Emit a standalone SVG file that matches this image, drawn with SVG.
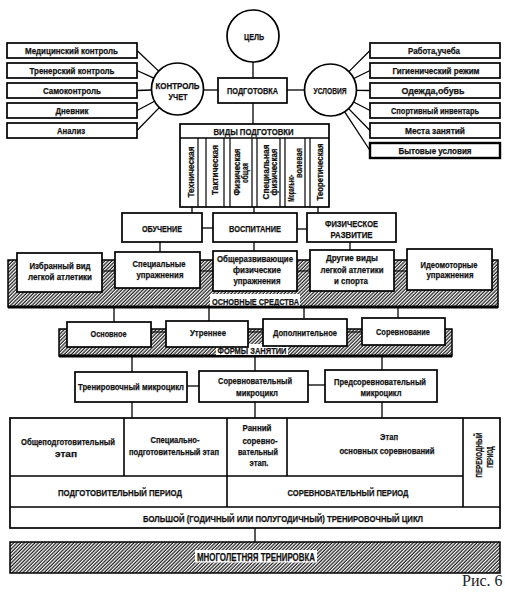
<svg xmlns="http://www.w3.org/2000/svg" width="505" height="602" viewBox="0 0 505 602">
<defs>
<pattern id="hatch" width="2.5" height="10" patternUnits="userSpaceOnUse" patternTransform="rotate(45)">
<rect width="2.5" height="10" fill="#fff"/>
<line x1="1" y1="0" x2="1" y2="10" stroke="#000" stroke-width="1.1"/>
</pattern>
</defs>
<style>
.b{fill:#fff;stroke:#000;stroke-width:1.7}
.h{fill:url(#hatch);stroke:#000;stroke-width:1.5}
.w{fill:#fff;stroke:none}
.t{font-family:"Liberation Sans",Arial,sans-serif;font-weight:bold;font-size:9.5px;text-anchor:middle;fill:#111;stroke:#111;stroke-width:0.25}
.s{font-size:8.5px}
.v{dominant-baseline:central}
.c line{stroke:#000;stroke-width:1.3;fill:none}
.thick{stroke:#000;stroke-width:3}
.cap{font-family:"Liberation Serif","Times New Roman",serif;font-size:16px;fill:#222}
</style>
<rect width="505" height="602" fill="#fff"/>

<g class="c" id="connectors">
<line x1="253" y1="62" x2="253" y2="78"/>
<line x1="203.5" y1="90" x2="218" y2="90"/>
<line x1="287" y1="90" x2="304.5" y2="90"/>
<line x1="137" y1="50.5" x2="158.7" y2="71.1"/>
<line x1="137" y1="70.5" x2="153.8" y2="78.2"/>
<line x1="137" y1="90.5" x2="151.5" y2="90"/>
<line x1="137" y1="110.5" x2="154.6" y2="101.2"/>
<line x1="137" y1="130.5" x2="159.3" y2="107.6"/>
<line x1="370" y1="50.5" x2="348.9" y2="71.6"/>
<line x1="370" y1="70.5" x2="353.8" y2="78.5"/>
<line x1="370" y1="90.5" x2="356.5" y2="90.3"/>
<line x1="370" y1="110.5" x2="353.6" y2="102"/>
<line x1="370" y1="130.5" x2="348.6" y2="108.6"/>
<line x1="370" y1="150.5" x2="344.7" y2="111.8"/>
<line x1="253" y1="103" x2="253" y2="124"/>
<line x1="192" y1="207" x2="192" y2="213"/>
<line x1="254" y1="207" x2="254" y2="213"/>
<line x1="318" y1="207" x2="318" y2="213"/>
<line x1="202" y1="228" x2="213" y2="228"/>
<line x1="297" y1="229" x2="307" y2="229"/>
<line x1="160" y1="242" x2="160" y2="252"/>
<line x1="254" y1="242" x2="254" y2="251"/>
<line x1="350" y1="242" x2="350" y2="250"/>
<line x1="114" y1="307" x2="114" y2="322"/>
<line x1="209" y1="307" x2="209" y2="321"/>
<line x1="304" y1="307" x2="304" y2="319"/>
<line x1="398" y1="307" x2="398" y2="318"/>
<line x1="132" y1="356" x2="132" y2="372"/>
<line x1="255" y1="356" x2="255" y2="371"/>
<line x1="382" y1="356" x2="382" y2="370"/>
<line x1="187" y1="386" x2="199" y2="386"/>
<line x1="308" y1="385" x2="325" y2="385"/>
<line x1="132" y1="402" x2="132" y2="418"/>
<line x1="255" y1="402" x2="255" y2="418"/>
<line x1="382" y1="402" x2="382" y2="418"/>
<line x1="255" y1="528" x2="255" y2="542"/>
</g>

<g id="goal">
<circle cx="253" cy="36" r="26" class="b"/>
<text class="t" x="254" y="40" textLength="20" lengthAdjust="spacingAndGlyphs">ЦЕЛЬ</text>
</g>
<g id="control">
<circle cx="177.5" cy="89" r="26" class="b"/>
<text class="t" x="177.5" y="88.5" textLength="44" lengthAdjust="spacingAndGlyphs">КОНТРОЛЬ</text>
<text class="t" x="178" y="99.5" textLength="19" lengthAdjust="spacingAndGlyphs">УЧЕТ</text>
</g>
<g id="conditions">
<circle cx="330.5" cy="90" r="26" class="b"/>
<text class="t" x="330" y="93.5" textLength="33" lengthAdjust="spacingAndGlyphs">УСЛОВИЯ</text>
</g>
<g id="training">
<rect x="218" y="78" width="69" height="25" class="b"/>
<text class="t" x="252.5" y="94" textLength="51" lengthAdjust="spacingAndGlyphs">ПОДГОТОВКА</text>
</g>

<g id="left-list">
<rect x="7" y="43" width="130" height="15" class="b"/><text class="t" x="71.5" y="54" textLength="93" lengthAdjust="spacingAndGlyphs">Медицинский контроль</text>
<rect x="7" y="63" width="130" height="15" class="b"/><text class="t" x="72" y="74" textLength="85" lengthAdjust="spacingAndGlyphs">Тренерский контроль</text>
<rect x="7" y="83" width="130" height="15" class="b"/><text class="t" x="72" y="94" textLength="58" lengthAdjust="spacingAndGlyphs">Самоконтроль</text>
<rect x="7" y="103" width="130" height="15" class="b"/><text class="t" x="72" y="114" textLength="33" lengthAdjust="spacingAndGlyphs">Дневник</text>
<rect x="7" y="123" width="130" height="15" class="b"/><text class="t" x="71" y="134" textLength="28" lengthAdjust="spacingAndGlyphs">Анализ</text>
</g>
<g id="right-list">
<rect x="370" y="43" width="130" height="15" class="b"/><text class="t" x="434" y="54" textLength="52" lengthAdjust="spacingAndGlyphs">Работа,учеба</text>
<rect x="370" y="63" width="130" height="15" class="b"/><text class="t" x="436" y="74" textLength="87" lengthAdjust="spacingAndGlyphs">Гигиенический режим</text>
<rect x="370" y="83" width="130" height="15" class="b"/><text class="t" x="433" y="94" textLength="63" lengthAdjust="spacingAndGlyphs">Одежда,обувь</text>
<rect x="370" y="103" width="130" height="15" class="b"/><text class="t" x="435" y="114" textLength="88" lengthAdjust="spacingAndGlyphs">Спортивный инвентарь</text>
<rect x="370" y="123" width="130" height="15" class="b"/><text class="t" x="435" y="134" textLength="60" lengthAdjust="spacingAndGlyphs">Места занятий</text>
<rect x="370" y="143" width="130" height="15" class="b" style="stroke-width:2.4"/><text class="t" x="435" y="154" textLength="73" lengthAdjust="spacingAndGlyphs">Бытовые условия</text>
</g>

<g id="types">
<rect x="180" y="124" width="149" height="83" class="b"/>
<line x1="180" y1="138" x2="329" y2="138" stroke="#000" stroke-width="1.5"/>
<text class="t" x="253.5" y="134.5" textLength="80" lengthAdjust="spacingAndGlyphs">ВИДЫ ПОДГОТОВКИ</text>
<g stroke="#000" stroke-width="1.2">
<line x1="198" y1="138" x2="198" y2="207"/><line x1="206" y1="138" x2="206" y2="207"/>
<line x1="224" y1="138" x2="224" y2="207"/><line x1="230" y1="138" x2="230" y2="207"/>
<line x1="252" y1="138" x2="252" y2="207"/><line x1="257" y1="138" x2="257" y2="207"/>
<line x1="280" y1="138" x2="280" y2="207"/><line x1="285" y1="138" x2="285" y2="207"/>
<line x1="305" y1="138" x2="305" y2="207"/><line x1="310" y1="138" x2="310" y2="207"/>
</g>
<text class="t v" transform="translate(190,172) rotate(-90)" textLength="51" lengthAdjust="spacingAndGlyphs">Техническая</text>
<text class="t v" transform="translate(214,170) rotate(-90)" textLength="50" lengthAdjust="spacingAndGlyphs">Тактическая</text>
<text class="t v" transform="translate(236.5,172) rotate(-90)" textLength="47" lengthAdjust="spacingAndGlyphs">Физическая</text>
<text class="t v" transform="translate(244.5,173) rotate(-90)" textLength="20" lengthAdjust="spacingAndGlyphs">общая</text>
<text class="t v" transform="translate(265,172) rotate(-90)" textLength="55" lengthAdjust="spacingAndGlyphs">Специальная</text>
<text class="t v" transform="translate(273,172) rotate(-90)" textLength="47" lengthAdjust="spacingAndGlyphs">физическая</text>
<text class="t v" transform="translate(290.5,188) rotate(-90)" textLength="27" lengthAdjust="spacingAndGlyphs">Морально-</text>
<text class="t v" transform="translate(298.5,163) rotate(-90)" textLength="30" lengthAdjust="spacingAndGlyphs">волевая</text>
<text class="t v" transform="translate(319,172) rotate(-90)" textLength="57" lengthAdjust="spacingAndGlyphs">Теоретическая</text>
</g>

<g id="teaching"><rect x="122" y="213" width="80" height="29" class="b"/><text class="t" x="162" y="231.5" textLength="40" lengthAdjust="spacingAndGlyphs">ОБУЧЕНИЕ</text></g>
<g id="upbringing"><rect x="213" y="213" width="84" height="29" class="b"/><text class="t" x="255" y="231.5" textLength="52" lengthAdjust="spacingAndGlyphs">ВОСПИТАНИЕ</text></g>
<g id="development"><rect x="307" y="213" width="89" height="29" class="b"/><text class="t" x="351.5" y="226.5" textLength="53" lengthAdjust="spacingAndGlyphs">ФИЗИЧЕСКОЕ</text><text class="t" x="351.5" y="237.5" textLength="42" lengthAdjust="spacingAndGlyphs">РАЗВИТИЕ</text></g>

<g id="means">
<rect x="8" y="260" width="490" height="47" class="h"/>
<line x1="8" y1="307" x2="498" y2="307" class="thick"/>
<g stroke="#000" stroke-width="1.1">
<line x1="102" y1="271" x2="115" y2="271"/><line x1="200" y1="271" x2="213" y2="271"/>
<line x1="297" y1="271" x2="310" y2="271"/><line x1="394" y1="271" x2="407" y2="271"/>
</g>
<rect x="210" y="294" width="90" height="11.5" class="w"/>
<text class="t" x="255.5" y="304.5" textLength="87" lengthAdjust="spacingAndGlyphs">ОСНОВНЫЕ СРЕДСТВА</text>
</g>
<g id="m1"><rect x="17" y="253" width="85" height="39" class="b"/><text class="t" x="60" y="269" textLength="61" lengthAdjust="spacingAndGlyphs">Избранный вид</text><text class="t" x="60" y="280" textLength="64" lengthAdjust="spacingAndGlyphs">легкой атлетики</text></g>
<g id="m2"><rect x="115" y="252" width="85" height="36" class="b"/><text class="t" x="159" y="267" textLength="53" lengthAdjust="spacingAndGlyphs">Специальные</text><text class="t" x="160" y="278" textLength="47" lengthAdjust="spacingAndGlyphs">упражнения</text></g>
<g id="m3"><rect x="213" y="251" width="84" height="40" class="b"/><text class="t" x="255" y="262" textLength="76" lengthAdjust="spacingAndGlyphs">Общеразвивающие</text><text class="t" x="257" y="273" textLength="48" lengthAdjust="spacingAndGlyphs">физические</text><text class="t" x="257" y="284" textLength="47" lengthAdjust="spacingAndGlyphs">упражнения</text></g>
<g id="m4"><rect x="310" y="250" width="84" height="41" class="b"/><text class="t" x="352" y="261" textLength="52" lengthAdjust="spacingAndGlyphs">Другие виды</text><text class="t" x="352" y="272.5" textLength="63" lengthAdjust="spacingAndGlyphs">легкой атлетики</text><text class="t" x="351" y="284" textLength="34" lengthAdjust="spacingAndGlyphs">и спорта</text></g>
<g id="m5"><rect x="407" y="249" width="85" height="41" class="b"/><text class="t" x="449" y="268" textLength="57" lengthAdjust="spacingAndGlyphs">Идеомоторные</text><text class="t" x="450" y="278" textLength="47" lengthAdjust="spacingAndGlyphs">упражнения</text></g>

<g id="forms">
<rect x="59" y="329" width="393" height="27" class="h"/>
<line x1="59" y1="356" x2="452" y2="356" class="thick"/>
<g stroke="#000" stroke-width="1.1">
<line x1="151" y1="332" x2="166" y2="332"/><line x1="248" y1="332" x2="263" y2="332"/><line x1="347" y1="332" x2="362" y2="332"/>
</g>
<rect x="216" y="344" width="72" height="11" class="w"/>
<text class="t" x="252" y="354" textLength="69" lengthAdjust="spacingAndGlyphs">ФОРМЫ ЗАНЯТИЙ</text>
</g>
<g id="f1"><rect x="67" y="322" width="84" height="25" class="b"/><text class="t" x="108.5" y="336.5" textLength="36" lengthAdjust="spacingAndGlyphs">Основное</text></g>
<g id="f2"><rect x="166" y="321" width="82" height="26" class="b"/><text class="t" x="208" y="336" textLength="36" lengthAdjust="spacingAndGlyphs">Утреннее</text></g>
<g id="f3"><rect x="263" y="319" width="84" height="27" class="b"/><text class="t" x="305" y="336" textLength="64" lengthAdjust="spacingAndGlyphs">Дополнительное</text></g>
<g id="f4"><rect x="362" y="318" width="83" height="27" class="b"/><text class="t" x="403" y="334.5" textLength="54" lengthAdjust="spacingAndGlyphs">Соревнование</text></g>

<g id="mc1"><rect x="75" y="372" width="112" height="30" class="b"/><text class="t" x="131" y="389.5" textLength="106" lengthAdjust="spacingAndGlyphs">Тренировочный микроцикл</text></g>
<g id="mc2"><rect x="199" y="371" width="109" height="31" class="b"/><text class="t" x="255" y="384" textLength="74" lengthAdjust="spacingAndGlyphs">Соревновательный</text><text class="t" x="257" y="395.5" textLength="42" lengthAdjust="spacingAndGlyphs">микроцикл</text></g>
<g id="mc3"><rect x="325" y="370" width="112" height="32" class="b"/><text class="t" x="380" y="385" textLength="92" lengthAdjust="spacingAndGlyphs">Предсоревновательный</text><text class="t" x="381" y="396" textLength="41" lengthAdjust="spacingAndGlyphs">микроцикл</text></g>

<g id="cycle-table">
<rect x="10" y="418" width="490" height="110" class="b"/>
<g stroke="#000" stroke-width="1.6">
<line x1="10" y1="476" x2="463" y2="476"/>
<line x1="10" y1="507" x2="500" y2="507"/>
<line x1="124" y1="418" x2="124" y2="476"/>
<line x1="227" y1="418" x2="227" y2="507"/>
<line x1="287" y1="418" x2="287" y2="476"/>
<line x1="463" y1="418" x2="463" y2="507"/>
</g>
<text class="t" x="68" y="445" textLength="94" lengthAdjust="spacingAndGlyphs">Общеподготовительный</text><text class="t" x="66" y="457" textLength="22" lengthAdjust="spacingAndGlyphs">этап</text>
<text class="t" x="175" y="443" textLength="49" lengthAdjust="spacingAndGlyphs">Специально-</text><text class="t s" x="174" y="454.5" textLength="90" lengthAdjust="spacingAndGlyphs">подготовительный этап</text>
<text class="t" x="257" y="431" textLength="29" lengthAdjust="spacingAndGlyphs">Ранний</text><text class="t" x="260" y="443.5" textLength="35" lengthAdjust="spacingAndGlyphs">соревно-</text><text class="t s" x="258" y="455" textLength="40" lengthAdjust="spacingAndGlyphs">вательный</text><text class="t" x="259" y="466" textLength="19" lengthAdjust="spacingAndGlyphs">этап.</text>
<text class="t" x="389" y="440" textLength="18" lengthAdjust="spacingAndGlyphs">Этап</text><text class="t" x="387" y="454" textLength="95" lengthAdjust="spacingAndGlyphs">основных соревнований</text>
<text class="t v" transform="translate(478,455) rotate(-90)" textLength="45" lengthAdjust="spacingAndGlyphs">ПЕРЕХОДНЫЙ</text>
<text class="t v" transform="translate(489,457) rotate(-90)" textLength="21" lengthAdjust="spacingAndGlyphs">ПЕРИОД</text>
<text class="t" x="120" y="495.5" textLength="124" lengthAdjust="spacingAndGlyphs">ПОДГОТОВИТЕЛЬНЫЙ ПЕРИОД</text>
<text class="t" x="348" y="495.5" textLength="121" lengthAdjust="spacingAndGlyphs">СОРЕВНОВАТЕЛЬНЫЙ ПЕРИОД</text>
<text class="t" x="283" y="521.5" textLength="280" lengthAdjust="spacingAndGlyphs">БОЛЬШОЙ (ГОДИЧНЫЙ ИЛИ ПОЛУГОДИЧНЫЙ) ТРЕНИРОВОЧНЫЙ ЦИКЛ</text>
</g>

<g id="longterm">
<rect x="10" y="542" width="490" height="31" class="h"/>
<rect x="195" y="550" width="122" height="12.5" class="w"/>
<text class="t" x="256" y="560.5" textLength="118" lengthAdjust="spacingAndGlyphs" style="font-size:10.5px">МНОГОЛЕТНЯЯ ТРЕНИРОВКА</text>
</g>

<text class="cap" x="462" y="586">Рис. 6</text>
</svg>
